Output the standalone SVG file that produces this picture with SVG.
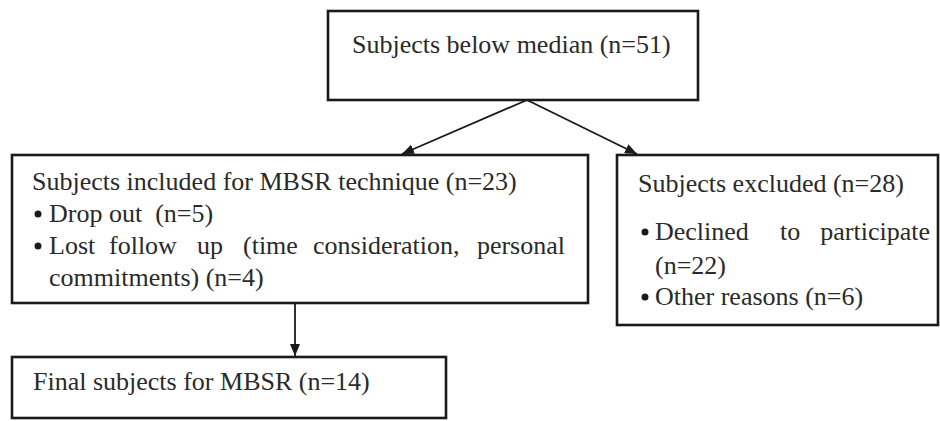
<svg xmlns="http://www.w3.org/2000/svg" width="940" height="421" viewBox="0 0 940 421">
<style>
.box{fill:#fff;stroke:#1a1a1a;stroke-width:2.6}
.t{font-size:26px;fill:#2a2a2a}
.c{stroke:#1a1a1a;stroke-width:1.8;fill:none}
.b{fill:#1a1a1a}
</style>
<defs>
<marker id="ah" viewBox="0 0 12 10" refX="12" refY="5" markerWidth="12" markerHeight="10" markerUnits="userSpaceOnUse" orient="auto">
<path d="M0,0 L12,5 L0,10 Z" fill="#1a1a1a"/>
</marker>
</defs>
<rect width="940" height="421" fill="#fff"/>
<g id="connectors">
<line class="c" x1="527" y1="100" x2="402" y2="154" marker-end="url(#ah)"/>
<line class="c" x1="527" y1="100" x2="637" y2="154" marker-end="url(#ah)"/>
<line class="c" x1="295" y1="303" x2="295" y2="356" marker-end="url(#ah)"/>
</g>
<g font-family="Liberation Serif, Tinos, DejaVu Serif, serif">
<g id="top">
<rect class="box" x="328" y="11" width="370" height="89"/>
<text class="t" x="352" y="53">Subjects below median (n=51)</text>
</g>
<g id="included">
<rect class="box" x="12" y="155" width="576" height="148"/>
<text class="t" x="32" y="190">Subjects included for MBSR technique (n=23)</text>
<circle class="b" cx="38" cy="214" r="3.5"/>
<text class="t" x="49" y="222">Drop out&#160; (n=5)</text>
<circle class="b" cx="38" cy="246" r="3.5"/>
<text class="t" x="49" y="254">Lost</text>
<text class="t" x="109" y="254">follow</text>
<text class="t" x="197" y="254">up</text>
<text class="t" x="243" y="254">(time</text>
<text class="t" x="313" y="254">consideration,</text>
<text class="t" x="565" y="254" text-anchor="end">personal</text>
<text class="t" x="49" y="286">commitments) (n=4)</text>
</g>
<g id="excluded">
<rect class="box" x="617" y="155" width="321" height="170"/>
<text class="t" x="638" y="192">Subjects excluded (n=28)</text>
<circle class="b" cx="645" cy="232" r="3.5"/>
<text class="t" x="655" y="240">Declined</text>
<text class="t" x="780" y="240">to</text>
<text class="t" x="930" y="240" text-anchor="end">participate</text>
<text class="t" x="655" y="274">(n=22)</text>
<circle class="b" cx="645" cy="297" r="3.5"/>
<text class="t" x="655" y="305">Other reasons (n=6)</text>
</g>
<g id="final">
<rect class="box" x="12" y="357" width="434" height="61"/>
<text class="t" x="33" y="390">Final subjects for MBSR (n=14)</text>
</g>
</g>
</svg>
